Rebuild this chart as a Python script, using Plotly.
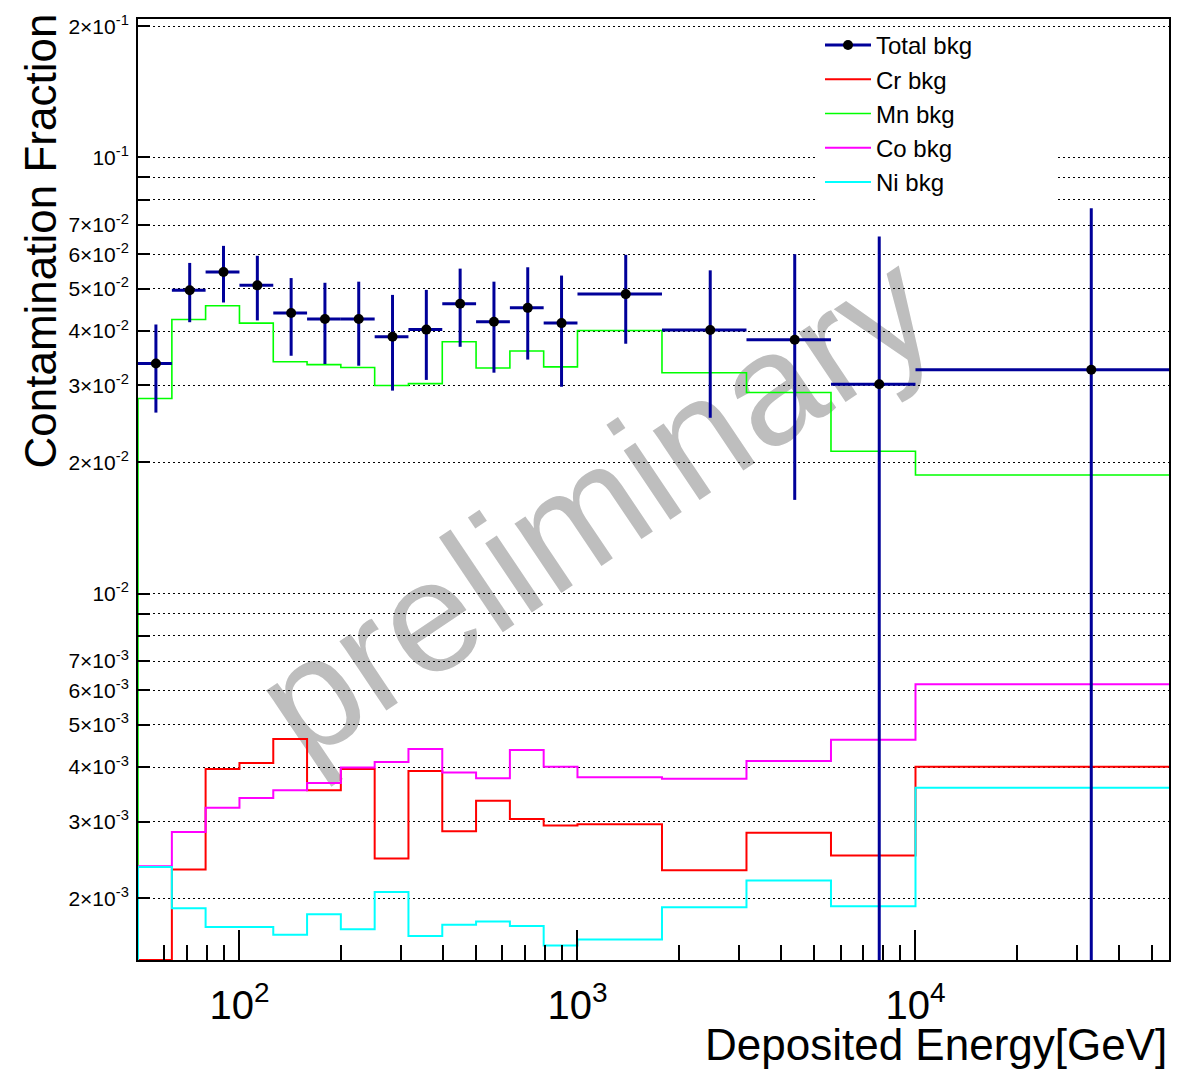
import math
import plotly.graph_objects as go

# ---------------- data ----------------
bin_edges = [50.1, 63.1, 79.4, 100.0, 125.9, 158.5, 199.5, 251.2, 316.2, 398.1,
             501.2, 631.0, 794.3, 1000.0, 1778.3, 3162.3, 5623.4, 10000.0, 56234.1]

total_bkg = [0.0337, 0.0496, 0.0546, 0.0509, 0.0440, 0.0426, 0.0426, 0.0388, 0.0403,
             0.0462, 0.0420, 0.0452, 0.0417, 0.0486, 0.0402, 0.0382, 0.0302, 0.0326]
total_err = [0.0077, 0.0077, 0.0081, 0.0086, 0.0089, 0.0090, 0.0093, 0.0096, 0.0094,
             0.0094, 0.0099, 0.0108, 0.0119, 0.0112, 0.0149, 0.0218, 0.0357, 0.0439]

cr_bkg = [0.0, 0.00233, 0.00396, 0.00409, 0.00464, 0.00354, 0.00396, 0.00247, 0.00392,
          0.00285, 0.00335, 0.00304, 0.00294, 0.00296, 0.00232, 0.00283, 0.00251, 0.00401]
mn_bkg = [0.0280, 0.0425, 0.0457, 0.0417, 0.0340, 0.0335, 0.0330, 0.0300, 0.0303,
          0.0378, 0.0329, 0.0360, 0.0331, 0.0401, 0.0321, 0.0289, 0.0212, 0.0187]
co_bkg = [0.00237, 0.00284, 0.00323, 0.00340, 0.00354, 0.00368, 0.00399, 0.00411, 0.00440,
          0.00389, 0.00377, 0.00438, 0.00401, 0.00379, 0.00376, 0.00413, 0.00462, 0.00620]
ni_bkg = [0.00236, 0.00190, 0.00172, 0.00172, 0.00165, 0.00184, 0.00170, 0.00207, 0.00164,
          0.00174, 0.00177, 0.00173, 0.00156, 0.00161, 0.00191, 0.00220, 0.00192, 0.00359]

# labelled y ticks
y_tick_vals = [0.002, 0.003, 0.004, 0.005, 0.006, 0.007,
               0.01, 0.02, 0.03, 0.04, 0.05, 0.06, 0.07, 0.1, 0.2]
y_tick_labels = ["2×10<sup>-3</sup>", "3×10<sup>-3</sup>", "4×10<sup>-3</sup>", "5×10<sup>-3</sup>",
                 "6×10<sup>-3</sup>", "7×10<sup>-3</sup>",
                 "10<sup>-2</sup>", "2×10<sup>-2</sup>", "3×10<sup>-2</sup>", "4×10<sup>-2</sup>",
                 "5×10<sup>-2</sup>", "6×10<sup>-2</sup>", "7×10<sup>-2</sup>",
                 "10<sup>-1</sup>", "2×10<sup>-1</sup>"]
# unlabelled y ticks
y_minor_vals = [0.008, 0.009, 0.08, 0.09]
x_tick_vals = [100, 1000, 10000]
x_tick_labels = ["10<sup>2</sup>", "10<sup>3</sup>", "10<sup>4</sup>"]

Y_MIN, Y_MAX = 0.001445, 0.2077

FONT = "Liberation Sans, Arial, Helvetica, sans-serif"
BLUE = "rgb(0,0,153)"
GRID_DASH = "2px,3px"

# plot-area pixel geometry (for paper-coordinate placement)
L, R, T, B, W, H = 138, 29, 15, 110, 1198, 1070
PW, PH = W - L - R, H - T - B


def px(x):
    return (x - L) / PW


def py(y):
    return (H - B - y) / PH


# ---------------- figure ----------------
fig = go.Figure()


def step_trace(values, color, name, width, rank):
    xs = [bin_edges[0]] + list(bin_edges)
    ys = [Y_MIN] + [v if v > 0 else Y_MIN for v in values] + [values[-1]]
    return go.Scatter(x=xs, y=ys, mode="lines", line=dict(color=color, width=width, shape="hv"),
                      name=name, hoverinfo="skip", legendrank=rank)


fig.add_trace(step_trace(cr_bkg, "rgb(255,0,0)", "Cr bkg", 2, 2))
fig.add_trace(step_trace(mn_bkg, "rgb(0,255,0)", "Mn bkg", 1.6, 3))
fig.add_trace(step_trace(co_bkg, "rgb(255,0,255)", "Co bkg", 2, 4))
fig.add_trace(step_trace(ni_bkg, "rgb(0,255,255)", "Ni bkg", 2, 5))

centers = [(a + b) / 2 for a, b in zip(bin_edges[:-1], bin_edges[1:])]
half_w = [(b - a) / 2 for a, b in zip(bin_edges[:-1], bin_edges[1:])]
err_minus = [min(e, v - 1e-4) for v, e in zip(total_bkg, total_err)]

fig.add_trace(go.Scatter(
    x=centers, y=total_bkg, mode="markers",
    marker=dict(color="black", size=10),
    error_x=dict(type="data", array=half_w, symmetric=True, color=BLUE, thickness=3, width=0),
    error_y=dict(type="data", array=total_err, arrayminus=err_minus, symmetric=False,
                 color=BLUE, thickness=3, width=0),
    showlegend=False, name="Total bkg"))
# legend entry for total (line + marker like ROOT "lep")
fig.add_trace(go.Scatter(x=[None], y=[None], mode="lines+markers", name="Total bkg",
                         line=dict(color=BLUE, width=3), marker=dict(color="black", size=10),
                         legendrank=1))

x_minor = [m * 10 ** d for d in (1, 2, 3, 4) for m in range(2, 10)
           if bin_edges[0] < m * 10 ** d < bin_edges[-1]]

fig.update_layout(
    width=W, height=H,
    margin=dict(l=L, r=R, t=T, b=B),
    paper_bgcolor="white", plot_bgcolor="white",
    font=dict(family=FONT, color="black"),
    showlegend=True,
    legend=dict(x=px(820), y=py(19), xanchor="left", yanchor="top",
                bgcolor="rgba(255,255,255,0)", borderwidth=0,
                font=dict(size=24, family=FONT),
                itemwidth=46, tracegroupgap=0),
    xaxis=dict(type="log",
               range=[math.log10(bin_edges[0]), math.log10(bin_edges[-1])],
               showline=True, linecolor="black", linewidth=2, mirror=True,
               ticks="inside", ticklen=30, tickwidth=2, tickcolor="black",
               tickmode="array", tickvals=x_tick_vals, ticktext=x_tick_labels,
               tickfont=dict(size=40, family=FONT), ticklabelstandoff=9,
               showgrid=False, zeroline=False,
               minor=dict(tickmode="array", tickvals=x_minor, ticks="inside", ticklen=15,
                          tickwidth=2, tickcolor="black", showgrid=False)),
    yaxis=dict(type="log",
               range=[math.log10(Y_MIN), math.log10(Y_MAX)],
               showline=True, linecolor="black", linewidth=2, mirror=True,
               ticks="inside", ticklen=12, tickwidth=2, tickcolor="black",
               tickmode="array", tickvals=y_tick_vals, ticktext=y_tick_labels,
               tickfont=dict(size=21, family=FONT), ticklabelstandoff=3,
               showgrid=True, gridcolor="black", gridwidth=1, griddash=GRID_DASH,
               zeroline=False,
               minor=dict(tickmode="array", tickvals=y_minor_vals, ticks="inside", ticklen=12,
                          tickwidth=2, tickcolor="black", showgrid=True, gridcolor="black",
                          gridwidth=1, griddash=GRID_DASH)),
    annotations=[
        dict(text="Contamination Fraction", xref="paper", yref="paper",
             x=px(41), y=py(8), xanchor="center", yanchor="top",
             textangle=-90, showarrow=False, font=dict(size=44, family=FONT)),
        dict(text="Deposited Energy[GeV]", xref="paper", yref="paper",
             x=1.0, y=py(1045), xanchor="right", yanchor="middle",
             showarrow=False, font=dict(size=44, family=FONT)),
    ],
    shapes=[
        # white legend box hiding the grid behind the legend (ROOT TLegend fill)
        dict(type="rect", xref="paper", yref="paper",
             x0=px(818), x1=px(1056), y0=py(203), y1=py(28),
             fillcolor="white", line=dict(width=0), layer="above"),
        # "preliminary" watermark
        dict(type="line", xref="paper", yref="paper",
             x0=px(337.3), y0=py(657.8), x1=px(834.7), y1=py(322.2),
             line=dict(width=0, color="rgba(0,0,0,0)"), layer="between",
             label=dict(text="preliminary", textposition="middle", yanchor="middle",
                        font=dict(size=158, family=FONT, color="rgb(190,190,190)"))),
    ],
)

fig.write_html("out.html", config={"displayModeBar": False},
               post_script="document.body.style.margin='0px';")
